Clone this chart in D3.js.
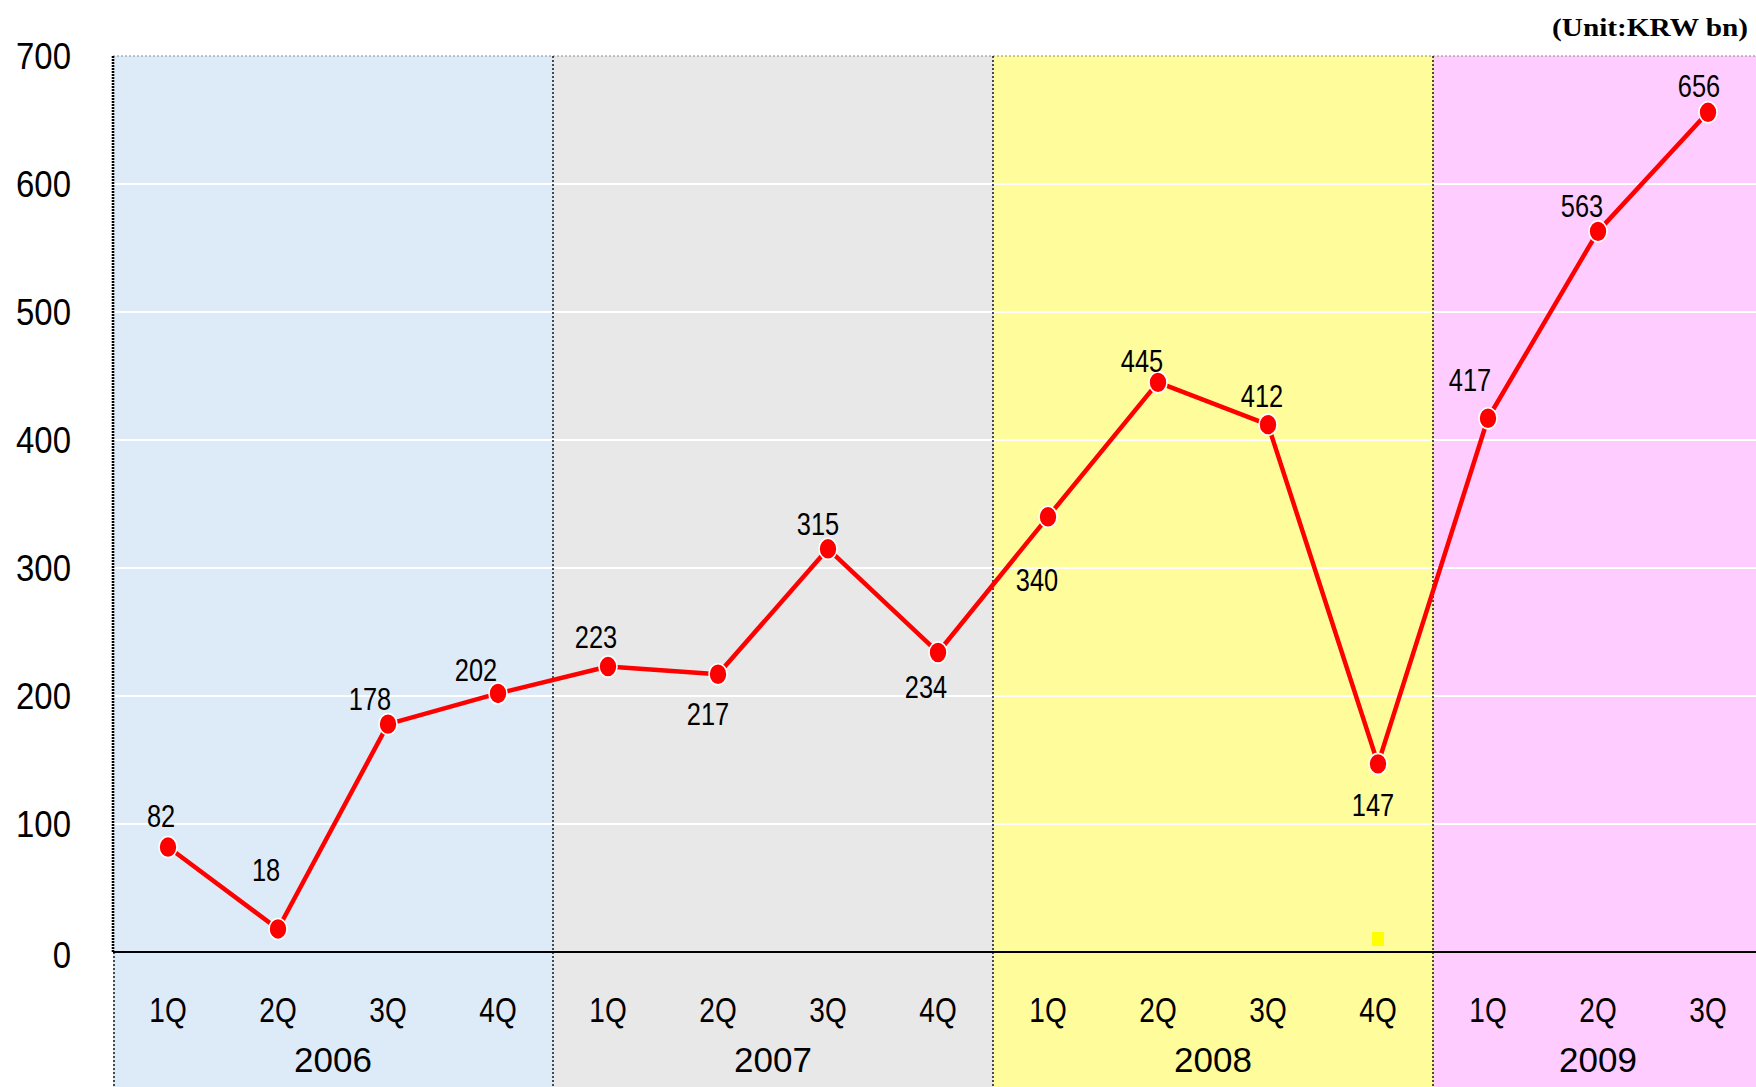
<!DOCTYPE html>
<html>
<head>
<meta charset="utf-8">
<title>Quarterly results (KRW bn)</title>
<script src="https://cdn.jsdelivr.net/npm/d3@7"></script>
<style>
  html, body { margin: 0; padding: 0; background: #fff; }
  svg { display: block; }
  text { font-family: "Liberation Sans", Arial, sans-serif; fill: #000; }
  text.unit { font-family: "Liberation Serif", "DejaVu Serif", serif; font-weight: bold; }
</style>
</head>
<body>
<svg id="chart" width="1756" height="1087"></svg>
<script>
// ---- data ----
const years = ["2006", "2007", "2008", "2009"];
const quartersPerYear = [4, 4, 4, 3];
const quarterLabels = ["1Q", "2Q", "3Q", "4Q", "1Q", "2Q", "3Q", "4Q", "1Q", "2Q", "3Q", "4Q", "1Q", "2Q", "3Q"];
const values = [82, 18, 178, 202, 223, 217, 315, 234, 340, 445, 412, 147, 417, 563, 656];
const yTicks = [0, 100, 200, 300, 400, 500, 600, 700];
const unitLabel = "(Unit:KRW bn)";
const flaggedQuarters = [11];

// ---- layout ----
const W = 1756, H = 1087;
const plotLeft = 113, quarterStep = 110;
const plotTop = 56, plotBottom = 952;
const yearFill = ["#DDEAF7", "#E8E8E8", "#FFFD9B", "#FECCFE"];

// value label placement relative to each marker: [dx, dy to baseline]
const labelPlacement = [
  [-7, -20], [-12, -48], [-18, -14], [-22, -12],
  [-12, -19], [-10, 51], [-10, -14], [-12, 46],
  [-11, 74], [-16, -10], [-6, -18], [-5, 52],
  [-18, -27], [-16, -14], [-9, -15]
];

const svg = d3.select("#chart");

const x = d3.scaleBand()
  .domain(d3.range(values.length))
  .range([plotLeft, plotLeft + quarterStep * values.length])
  .paddingInner(0).paddingOuter(0);
const cx = i => x(i) + x.bandwidth() / 2;

const y = d3.scaleLinear().domain([0, 700]).range([plotBottom, plotTop]);

// year spans (first quarter index, count)
let start = 0;
const spans = years.map((yr, k) => {
  const s = { year: yr, first: start, count: quartersPerYear[k], fill: yearFill[k] };
  start += quartersPerYear[k];
  return s;
});

// background bands per year, running below the axis to the page bottom
svg.append("g").selectAll("rect")
  .data(spans).join("rect")
  .attr("x", d => x(d.first))
  .attr("y", y(700))
  .attr("width", d => x.bandwidth() * d.count)
  .attr("height", H - y(700))
  .attr("fill", d => d.fill);

// horizontal gridlines
svg.append("g").selectAll("line")
  .data(yTicks.filter(t => t > 0 && t < 700)).join("line")
  .attr("x1", plotLeft).attr("x2", W)
  .attr("y1", d => y(d)).attr("y2", d => y(d))
  .attr("stroke", "#fff").attr("stroke-width", 2);

// dotted top edge
svg.append("line")
  .attr("x1", plotLeft).attr("x2", W)
  .attr("y1", y(700)).attr("y2", y(700))
  .attr("stroke", "#888").attr("stroke-width", 1.2)
  .attr("stroke-dasharray", "2,2");

// dotted year separators
svg.append("g").selectAll("line")
  .data(spans.slice(1)).join("line")
  .attr("x1", d => x(d.first)).attr("x2", d => x(d.first))
  .attr("y1", y(700)).attr("y2", H)
  .attr("stroke", "#222").attr("stroke-width", 1.6)
  .attr("stroke-dasharray", "2,2");

// left axis: heavy dotted above zero, light dotted below
svg.append("line")
  .attr("x1", plotLeft).attr("x2", plotLeft)
  .attr("y1", y(700)).attr("y2", y(0))
  .attr("stroke", "#000").attr("stroke-width", 2.6)
  .attr("stroke-dasharray", "2,1");
svg.append("line")
  .attr("x1", plotLeft + 1).attr("x2", plotLeft + 1)
  .attr("y1", y(0)).attr("y2", H)
  .attr("stroke", "#222").attr("stroke-width", 1.6)
  .attr("stroke-dasharray", "2,2");

// zero baseline
svg.append("line")
  .attr("x1", plotLeft).attr("x2", W)
  .attr("y1", y(0)).attr("y2", y(0))
  .attr("stroke", "#000").attr("stroke-width", 2.2);

// y tick labels
svg.append("g").selectAll("text")
  .data(yTicks).join("text")
  .attr("transform", d => `translate(71,${y(d) + 13 + (d === 0 ? 3 : 0)}) scale(0.89,1)`)
  .attr("text-anchor", "end")
  .attr("font-size", 37)
  .text(d => d);

// quarter labels
svg.append("g").selectAll("text")
  .data(quarterLabels).join("text")
  .attr("transform", (d, i) => `translate(${cx(i)},1022) scale(0.8,1)`)
  .attr("text-anchor", "middle")
  .attr("font-size", 35)
  .text(d => d);

// year labels
svg.append("g").selectAll("text")
  .data(spans).join("text")
  .attr("x", d => x(d.first) + x.bandwidth() * d.count / 2)
  .attr("y", 1072)
  .attr("text-anchor", "middle")
  .attr("font-size", 35)
  .text(d => d.year);

// small flag marks resting on the baseline
svg.append("g").selectAll("rect")
  .data(flaggedQuarters).join("rect")
  .attr("x", d => cx(d) - 6)
  .attr("y", y(0) - 20)
  .attr("width", 12).attr("height", 14)
  .attr("fill", "#FFFF00");

// value line
const line = d3.line().x((d, i) => cx(i)).y(d => y(d));
svg.append("path")
  .datum(values)
  .attr("d", line)
  .attr("fill", "none")
  .attr("stroke", "#FF0000")
  .attr("stroke-width", 4.5)
  .attr("stroke-linejoin", "round");

// markers
svg.append("g").selectAll("ellipse")
  .data(values).join("ellipse")
  .attr("cx", (d, i) => cx(i))
  .attr("cy", d => y(d))
  .attr("rx", 9).attr("ry", 10.5)
  .attr("fill", "#FF0000")
  .attr("stroke", "#fff").attr("stroke-width", 1.6);

// value labels
svg.append("g").selectAll("text")
  .data(values).join("text")
  .attr("transform", (d, i) =>
    `translate(${cx(i) + labelPlacement[i][0]},${y(d) + labelPlacement[i][1]}) scale(0.82,1)`)
  .attr("text-anchor", "middle")
  .attr("font-size", 31)
  .text(d => d);

// unit note
svg.append("text")
  .attr("class", "unit")
  .attr("x", 1748).attr("y", 36)
  .attr("text-anchor", "end")
  .attr("font-size", 26)
  .attr("textLength", 196)
  .attr("lengthAdjust", "spacingAndGlyphs")
  .text(unitLabel);
</script>
</body>
</html>
